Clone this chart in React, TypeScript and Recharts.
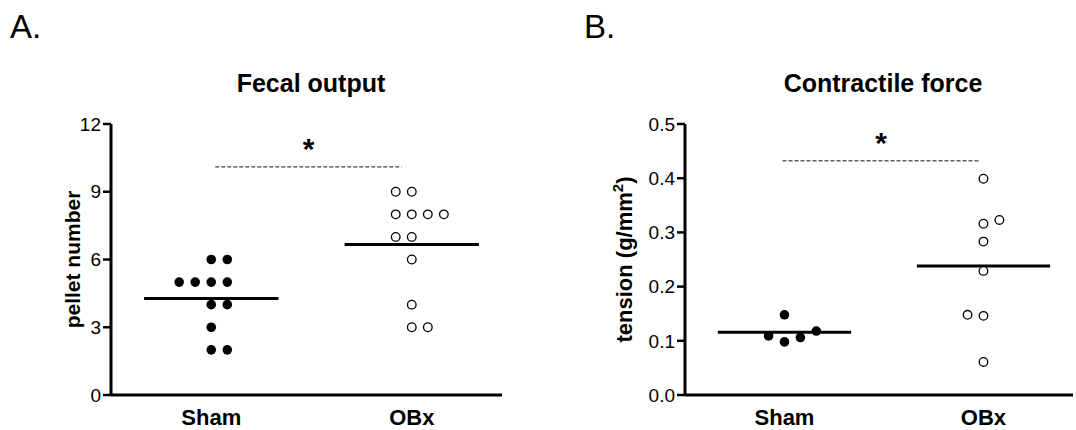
import React from 'react';
import { ScatterChart, Scatter, XAxis, YAxis, ReferenceLine } from 'recharts';

// groups on the x axis
const groups = ['Sham', 'OBx'];

// panel A: fecal output (pellet number)
const shamPellets = [6, 6, 5, 5, 5, 5, 4, 4, 3, 2, 2];
const obxPellets = [9, 9, 8, 8, 8, 8, 7, 7, 6, 4, 3, 3];
const pelletTicks = [0, 3, 6, 9, 12];

// panel B: contractile force (tension, g/mm2)
const shamTension = [0.148, 0.109, 0.098, 0.106, 0.118];
const obxTension = [0.399, 0.316, 0.323, 0.283, 0.229, 0.148, 0.146, 0.061];
const tensionTicks = [0, 0.1, 0.2, 0.3, 0.4, 0.5];

// significance bars (value level of the dashed line)
const pelletSigLevel = 10.1;
const tensionSigLevel = 0.432;

// column scatter: slot of each dot inside its row
const shamPelletsJitter = [0, 1, -2, -1, 0, 1, 0, 1, 0, 0, 1];
const obxPelletsJitter = [-1, 0, -1, 0, 1, 2, -1, 0, 0, 0, 0, 1];
const shamTensionJitter = [0, -1, 0, 1, 2];
const obxTensionJitter = [0, 0, 1, 0, 0, -1, 0, 0];

const FONT = '"Liberation Sans", Arial, Helvetica, sans-serif';
const STEP = 0.08; // width of one dot slot, in column units
const HALF_MEAN = 0.335;

const toPoints = (vals: number[], jitter: number[], col: number) =>
  vals.map((y, i) => ({ x: col + jitter[i] * STEP, y }));

const mean = (v: number[]) => v.reduce((a, b) => a + b, 0) / v.length;

const FilledDot = (p: any) => <circle cx={p.cx} cy={p.cy} r={4.8} fill="#000" />;
const OpenDot = (p: any) => (
  <circle cx={p.cx} cy={p.cy} r={4.3} fill="#fff" stroke="#000" strokeWidth={1.3} />
);

interface PanelProps {
  letter: string;
  letterX: number;
  title: string;
  titleX: number;
  width: number;
  yAxisWidth: number;
  marginRight: number;
  yLabel: React.ReactNode;
  yLabelX: number;
  yLabelSize: number;
  ticks: number[];
  tickFmt: (v: number) => string;
  sham: { x: number; y: number }[];
  obx: { x: number; y: number }[];
  shamMean: number;
  obxMean: number;
  sigLevel: number;
  sigFrom: number;
  sigTo: number;
}

const Panel: React.FC<PanelProps> = (p) => {
  const top = 124;
  const bottom = 395;
  return (
    <div style={{ position: 'relative', width: p.width, height: 430 }}>
      <ScatterChart
        width={p.width}
        height={430}
        margin={{ top, right: p.marginRight, bottom: 0, left: 0 }}
      >
        <XAxis
          type="number"
          dataKey="x"
          domain={[0.5, 2.45]}
          ticks={[1, 2]}
          tickFormatter={(v: number) => groups[v - 1]}
          allowDataOverflow
          height={430 - bottom}
          tickLine={false}
          tickSize={0}
          tickMargin={14}
          axisLine={{ stroke: '#000', strokeWidth: 3 }}
          tick={{ fontSize: 22, fontWeight: 'bold', fill: '#000' }}
        />
        <YAxis
          type="number"
          dataKey="y"
          domain={[p.ticks[0], p.ticks[p.ticks.length - 1]]}
          ticks={p.ticks}
          tickFormatter={p.tickFmt}
          width={p.yAxisWidth}
          tickSize={8}
          tickMargin={2}
          axisLine={{ stroke: '#000', strokeWidth: 3 }}
          tickLine={{ stroke: '#000', strokeWidth: 2.5 }}
          tick={{ fontSize: 19, fill: '#000' }}
        />
        <ReferenceLine
          segment={[
            { x: p.sigFrom, y: p.sigLevel },
            { x: p.sigTo, y: p.sigLevel },
          ]}
          stroke="#111"
          strokeWidth={1}
          strokeDasharray="4 2"
          label={{ value: '*', position: 'top', offset: 8, fontSize: 30, fontWeight: 'bold', fill: '#000' }}
        />
        <ReferenceLine
          segment={[
            { x: 1 - HALF_MEAN, y: p.shamMean },
            { x: 1 + HALF_MEAN, y: p.shamMean },
          ]}
          stroke="#000"
          strokeWidth={3}
        />
        <ReferenceLine
          segment={[
            { x: 2 - HALF_MEAN, y: p.obxMean },
            { x: 2 + HALF_MEAN, y: p.obxMean },
          ]}
          stroke="#000"
          strokeWidth={3}
        />
        <Scatter data={p.sham} shape={FilledDot} isAnimationActive={false} />
        <Scatter data={p.obx} shape={OpenDot} isAnimationActive={false} />
      </ScatterChart>
      <svg
        width={p.width}
        height={430}
        style={{ position: 'absolute', left: 0, top: 0, pointerEvents: 'none' }}
      >
        <text x={p.letterX} y={38} fontSize={33} fill="#000">
          {p.letter}
        </text>
        <text x={p.titleX} y={92} fontSize={25} fontWeight="bold" textAnchor="middle" fill="#000">
          {p.title}
        </text>
        <text
          x={p.yLabelX}
          y={(top + bottom) / 2}
          fontSize={p.yLabelSize}
          fontWeight="bold"
          textAnchor="middle"
          fill="#000"
          transform={`rotate(-90 ${p.yLabelX} ${(top + bottom) / 2})`}
        >
          {p.yLabel}
        </text>
      </svg>
    </div>
  );
};

export default function App() {
  return (
    <div
      style={{
        position: 'absolute',
        left: 0,
        top: 0,
        width: 1076,
        height: 430,
        background: '#fff',
        display: 'flex',
        fontFamily: FONT,
      }}
    >
      <Panel
        letter="A."
        letterX={10}
        title="Fecal output"
        titleX={311}
        width={540}
        yAxisWidth={111}
        marginRight={38}
        yLabel="pellet number"
        yLabelX={80}
        yLabelSize={21}
        ticks={pelletTicks}
        tickFmt={(v) => String(v)}
        sham={toPoints(shamPellets, shamPelletsJitter, 1)}
        obx={toPoints(obxPellets, obxPelletsJitter, 2)}
        shamMean={mean(shamPellets)}
        obxMean={mean(obxPellets)}
        sigLevel={pelletSigLevel}
        sigFrom={1.02}
        sigTo={1.95}
      />
      <Panel
        letter="B."
        letterX={44}
        title="Contractile force"
        titleX={343}
        width={536}
        yAxisWidth={145}
        marginRight={3}
        yLabel={
          <>
            <tspan>tension (g/mm</tspan>
            <tspan dy={-9} fontSize={15}>2</tspan>
            <tspan dy={9}>)</tspan>
          </>
        }
        yLabelX={92}
        yLabelSize={22}
        ticks={tensionTicks}
        tickFmt={(v) => v.toFixed(1)}
        sham={toPoints(shamTension, shamTensionJitter, 1)}
        obx={toPoints(obxTension, obxTensionJitter, 2)}
        shamMean={mean(shamTension)}
        obxMean={mean(obxTension)}
        sigLevel={tensionSigLevel}
        sigFrom={0.99}
        sigTo={1.98}
      />
    </div>
  );
}
